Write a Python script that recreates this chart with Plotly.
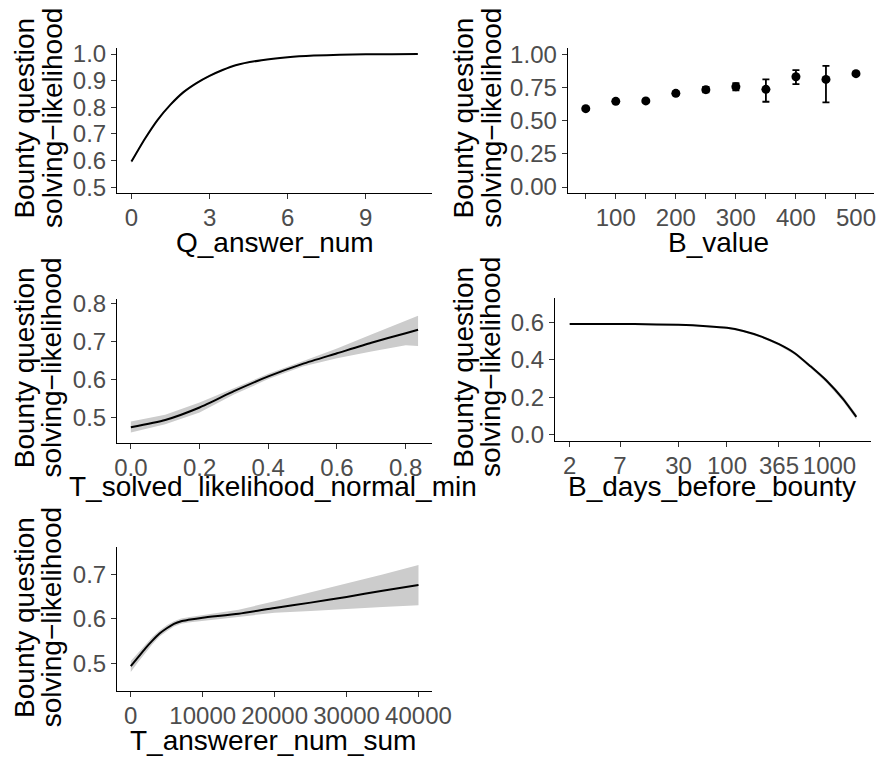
import plotly.graph_objects as go

# ---------------- data ----------------
# Panel 1: Q_answer_num
q_x = [0, 0.5, 1, 1.5, 2, 2.5, 3, 3.5, 4, 5, 6, 7, 8, 9, 10, 11]
q_y = [0.596, 0.679, 0.752, 0.810, 0.857, 0.891, 0.918, 0.940, 0.958, 0.977, 0.988, 0.994, 0.997, 0.999, 0.9995, 1.0]
q_lo = [0.590, 0.674, 0.748, 0.806, 0.853, 0.888, 0.915, 0.937, 0.956, 0.975, 0.987, 0.993, 0.996, 0.998, 0.999, 0.9995]
q_hi = [0.602, 0.684, 0.756, 0.814, 0.861, 0.894, 0.921, 0.943, 0.960, 0.979, 0.989, 0.995, 0.998, 0.9995, 1.0, 1.0]

# Panel 2: B_value
b_x = [50, 100, 150, 200, 250, 300, 350, 400, 450, 500]
b_y = [0.590, 0.645, 0.648, 0.705, 0.733, 0.755, 0.735, 0.830, 0.810, 0.853]
b_lo = [0.583, 0.638, 0.638, 0.693, 0.712, 0.728, 0.642, 0.775, 0.637, 0.845]
b_hi = [0.597, 0.652, 0.658, 0.717, 0.754, 0.782, 0.810, 0.880, 0.912, 0.861]
b_ticks = [50, 100, 150, 200, 250, 300, 350, 400, 450, 500]
b_ticktext = ["", "100", "", "200", "", "300", "", "400", "", "500"]

# Panel 3: T_solved_likelihood_normal_min
t_x = [0, 0.1, 0.2, 0.3, 0.4, 0.5, 0.6, 0.7, 0.8, 0.836]
t_y = [0.474, 0.493, 0.526, 0.569, 0.608, 0.641, 0.669, 0.697, 0.722, 0.731]
t_lo = [0.460, 0.482, 0.513, 0.560, 0.601, 0.634, 0.656, 0.674, 0.690, 0.688]
t_hi = [0.489, 0.507, 0.539, 0.578, 0.615, 0.648, 0.682, 0.719, 0.755, 0.768]

# Panel 4: B_days_before_bounty (log scale)
d_x = [2, 5, 10, 30, 60, 100, 150, 240, 365, 540, 800, 1200, 1800, 2500]
d_y = [0.591, 0.591, 0.590, 0.586, 0.579, 0.570, 0.553, 0.522, 0.483, 0.435, 0.365, 0.287, 0.191, 0.096]
d_lo = [0.586, 0.587, 0.586, 0.582, 0.575, 0.565, 0.548, 0.516, 0.476, 0.427, 0.356, 0.276, 0.178, 0.082]
d_hi = [0.596, 0.595, 0.594, 0.590, 0.583, 0.575, 0.558, 0.528, 0.490, 0.443, 0.374, 0.298, 0.204, 0.110]
d_ticks = [2, 7, 30, 100, 365, 1000]
d_ticktext = ["2", "7", "30", "100", "365", "\u00a0\u00a0\u00a01000"]

# Panel 5: T_answerer_num_sum
s_x = [0, 1000, 2000, 3000, 4000, 5000, 6000, 7000, 8000, 10000, 15000, 20000, 25000, 30000, 35000, 40000]
s_y = [0.493, 0.513, 0.533, 0.551, 0.567, 0.579, 0.589, 0.595, 0.598, 0.603, 0.612, 0.625, 0.637, 0.650, 0.664, 0.677]
s_lo = [0.480, 0.502, 0.523, 0.543, 0.560, 0.572, 0.583, 0.589, 0.592, 0.597, 0.605, 0.614, 0.618, 0.622, 0.627, 0.631]
s_hi = [0.505, 0.523, 0.542, 0.559, 0.574, 0.586, 0.595, 0.601, 0.604, 0.609, 0.621, 0.640, 0.660, 0.681, 0.701, 0.722]

y_title_lines = ["Bounty question", "solving\u2212likelihood"]
x_titles = ["Q_answer_num", "B_value", "T_solved_likelihood_normal_min",
            "B_days_before_bounty", "T_answerer_num_sum"]

# ---------------- figure ----------------
W, H = 893, 762
FONT = "Liberation Sans, Arial, Helvetica, sans-serif"
BAND = "rgb(204,204,204)"
TITLE_SIZE = 28

fig = go.Figure()


def band_line(x, y, lo, hi, n):
    xa = "x" if n == 1 else f"x{n}"
    ya = "y" if n == 1 else f"y{n}"
    fig.add_trace(go.Scatter(x=list(x) + list(x)[::-1], y=list(hi) + list(lo)[::-1],
                             fill="toself", fillcolor=BAND, line=dict(width=0),
                             mode="lines", hoverinfo="skip", showlegend=False,
                             xaxis=xa, yaxis=ya))
    fig.add_trace(go.Scatter(x=x, y=y, mode="lines",
                             line=dict(color="black", width=2, shape="spline", smoothing=0.6),
                             showlegend=False, xaxis=xa, yaxis=ya))


band_line(q_x, q_y, q_lo, q_hi, 1)
fig.add_trace(go.Scatter(
    x=b_x, y=b_y, mode="markers", marker=dict(color="black", size=9),
    error_y=dict(type="data", symmetric=False,
                 array=[h - v for h, v in zip(b_hi, b_y)],
                 arrayminus=[v - l for v, l in zip(b_y, b_lo)],
                 color="black", thickness=1.8, width=3.5),
    showlegend=False, xaxis="x2", yaxis="y2"))
band_line(t_x, t_y, t_lo, t_hi, 3)
band_line(d_x, d_y, d_lo, d_hi, 4)
band_line(s_x, s_y, s_lo, s_hi, 5)


def px_x(a, b):
    return [a / W, b / W]


def px_y(top, bottom):
    return [1 - bottom / H, 1 - top / H]


axis_common = dict(showline=True, linecolor="black", linewidth=1.2, ticks="outside",
                   tickcolor="#333333", ticklen=5, tickwidth=1.1, showgrid=False,
                   zeroline=False, tickangle=0,
                   tickfont=dict(family=FONT, size=24, color="#4D4D4D"))

doms = {
    1: (px_x(117, 440), px_y(40, 188)),
    2: (px_x(579, 893), px_y(40, 188)),
    3: (px_x(117, 440), px_y(296, 443)),
    4: (px_x(566, 890), px_y(295, 441)),
    5: (px_x(117, 440), px_y(550, 697)),
}

layout = dict(width=W, height=H, margin=dict(l=0, r=0, t=0, b=0),
              paper_bgcolor="white", plot_bgcolor="white",
              font=dict(family=FONT), showlegend=False)

xcfg = {
    1: dict(range=[-0.55, 11.55], tickvals=[0, 3, 6, 9]),
    2: dict(range=[20, 530], tickvals=b_ticks, ticktext=b_ticktext),
    3: dict(range=[-0.04, 0.877], tickvals=[0, 0.2, 0.4, 0.6, 0.8], tickformat=".1f"),
    4: dict(type="log", range=[0.143, 3.557], tickvals=d_ticks, ticktext=d_ticktext),
    5: dict(range=[-1900, 41900], tickvals=[0, 10000, 20000, 30000, 40000], tickformat="d"),
}
ycfg = {
    1: dict(range=[0.478, 1.022], tickvals=[0.5, 0.6, 0.7, 0.8, 0.9, 1.0], tickformat=".1f"),
    2: dict(range=[-0.045, 1.045], tickvals=[0, 0.25, 0.5, 0.75, 1.0], tickformat=".2f"),
    3: dict(range=[0.433, 0.813], tickvals=[0.5, 0.6, 0.7, 0.8], tickformat=".1f"),
    4: dict(range=[-0.031, 0.73], tickvals=[0, 0.2, 0.4, 0.6], tickformat=".1f"),
    5: dict(range=[0.436, 0.762], tickvals=[0.5, 0.6, 0.7], tickformat=".1f"),
}

for n in range(1, 6):
    xd, yd = doms[n]
    xk = "xaxis" if n == 1 else f"xaxis{n}"
    yk = "yaxis" if n == 1 else f"yaxis{n}"
    xa = "x" if n == 1 else f"x{n}"
    ya = "y" if n == 1 else f"y{n}"
    layout[xk] = dict(axis_common, domain=xd, anchor=ya, ticklabelstandoff=-2, **xcfg[n])
    layout[yk] = dict(axis_common, domain=yd, anchor=xa, **ycfg[n])

fig.update_layout(**layout)

# y-axis titles: two rotated lines each (tight line spacing as in the reference)
ytitle_pos = [(22, 50, 111.5), (472, 500, 111.5), (22, 50, 366.5), (472, 500, 366), (22, 50, 621.5)]
for (x1, x2, yp) in ytitle_pos:
    for xp, txt in ((x1, y_title_lines[0]), (x2, y_title_lines[1])):
        fig.add_annotation(x=xp / W, y=1 - yp / H, xref="paper", yref="paper",
                           text=txt, textangle=-90, showarrow=False,
                           xanchor="center", yanchor="middle",
                           font=dict(family=FONT, size=TITLE_SIZE, color="black"))

xtitle_pos = [(278.5, 238), (734, 238), (276.5, 488), (727, 488), (277, 747)]
for (xp, yp), t in zip(xtitle_pos, x_titles):
    fig.add_annotation(x=xp / W, y=1 - yp / H, xref="paper", yref="paper",
                       text=t, showarrow=False, xanchor="center", yanchor="middle",
                       font=dict(family=FONT, size=TITLE_SIZE, color="black"))

fig.write_html("out.html", config={"displayModeBar": False},
               post_script="document.body.style.margin='0';document.body.style.padding='0';")
